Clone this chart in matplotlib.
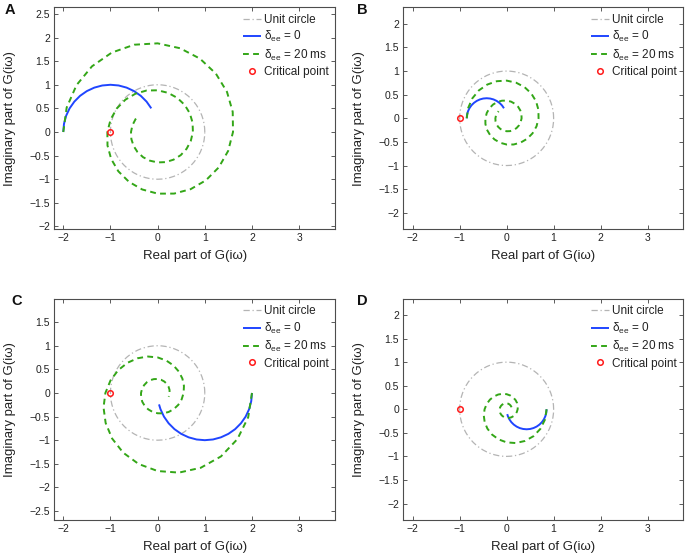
import numpy as np
import matplotlib
matplotlib.use('Agg')
import matplotlib.pyplot as plt

plt.rcParams['font.family'] = ['Liberation Sans', 'DejaVu Sans']
plt.rcParams['mathtext.fontset'] = 'custom'
plt.rcParams['mathtext.rm'] = 'Liberation Sans'
plt.rcParams['mathtext.it'] = 'Liberation Sans:italic'
plt.rcParams['axes.unicode_minus'] = True

# ---------------- data ----------------
panel_letters = ['A', 'B', 'C', 'D']
# starting polar angle of each Nyquist curve (deg): negative gain -> 180, positive -> 0
start_angle = [180, 180, 0, 0]

# phase lag (deg) at which the radii below were read
lag_ab_green = list(range(0, 751, 15)) + [761]
lag_cd_green = list(range(0, 736, 15)) + [739]
lag_ab_blue = list(range(0, 76, 5))
lag_cd_blue = list(range(0, 81, 5)) + [83]

# |G(iw)| along the delayed curves (delta_ee = 20 ms)
green_A = [2.000, 1.996, 1.985, 1.967, 1.942, 1.913, 1.877, 1.836, 1.794, 1.747,
           1.698, 1.648, 1.598, 1.548, 1.497, 1.447, 1.398, 1.350, 1.305, 1.260,
           1.217, 1.177, 1.138, 1.100, 1.065, 1.031, 0.998, 0.967, 0.937, 0.909,
           0.883, 0.858, 0.834, 0.811, 0.789, 0.767, 0.748, 0.728, 0.710, 0.693,
           0.676, 0.660, 0.644, 0.629, 0.616, 0.602, 0.589, 0.576, 0.564, 0.553,
           0.541, 0.533]
green_B = [0.850, 0.848, 0.844, 0.836, 0.825, 0.813, 0.798, 0.780, 0.762, 0.742,
           0.722, 0.700, 0.679, 0.658, 0.636, 0.615, 0.594, 0.574, 0.555, 0.536,
           0.517, 0.500, 0.484, 0.468, 0.453, 0.438, 0.424, 0.411, 0.398, 0.386,
           0.375, 0.365, 0.354, 0.345, 0.335, 0.326, 0.318, 0.309, 0.302, 0.295,
           0.287, 0.281, 0.274, 0.267, 0.262, 0.256, 0.250, 0.245, 0.240, 0.235,
           0.230, 0.227]
green_C = [2.000, 1.988, 1.953, 1.900, 1.829, 1.746, 1.653, 1.557, 1.460, 1.364,
           1.272, 1.187, 1.107, 1.033, 0.965, 0.904, 0.849, 0.799, 0.753, 0.711,
           0.673, 0.638, 0.607, 0.578, 0.551, 0.527, 0.505, 0.484, 0.465, 0.447,
           0.430, 0.415, 0.400, 0.387, 0.375, 0.363, 0.352, 0.341, 0.331, 0.322,
           0.313, 0.304, 0.296, 0.289, 0.281, 0.274, 0.267, 0.261, 0.255, 0.250,
           0.248]
green_D = [0.850, 0.845, 0.830, 0.808, 0.777, 0.742, 0.703, 0.662, 0.621, 0.580,
           0.541, 0.504, 0.470, 0.439, 0.410, 0.384, 0.361, 0.340, 0.320, 0.302,
           0.286, 0.271, 0.258, 0.246, 0.234, 0.224, 0.215, 0.206, 0.198, 0.190,
           0.183, 0.176, 0.170, 0.164, 0.159, 0.154, 0.150, 0.145, 0.141, 0.137,
           0.133, 0.129, 0.126, 0.123, 0.119, 0.116, 0.113, 0.111, 0.108, 0.106,
           0.105]

# |G(iw)| along the undelayed curves (delta_ee = 0)
blue_A = [2.000, 1.992, 1.970, 1.932, 1.879, 1.813, 1.732, 1.638, 1.532, 1.414,
          1.286, 1.147, 1.000, 0.845, 0.684, 0.518]
blue_B = [0.850, 0.847, 0.837, 0.821, 0.799, 0.770, 0.736, 0.696, 0.651, 0.601,
          0.546, 0.488, 0.425, 0.359, 0.291, 0.220]
blue_C = [2.000, 1.992, 1.970, 1.932, 1.879, 1.813, 1.732, 1.638, 1.532, 1.414,
          1.286, 1.147, 1.000, 0.845, 0.684, 0.518, 0.347, 0.244]
blue_D = [0.850, 0.847, 0.837, 0.821, 0.799, 0.770, 0.736, 0.696, 0.651, 0.601,
          0.546, 0.488, 0.425, 0.359, 0.291, 0.220, 0.148, 0.104]

green_r = [green_A, green_B, green_C, green_D]
blue_r = [blue_A, blue_B, blue_C, blue_D]
green_lag = [lag_ab_green, lag_ab_green, lag_cd_green, lag_cd_green]
blue_lag = [lag_ab_blue, lag_ab_blue, lag_cd_blue, lag_cd_blue]

unit_circle_angles = list(range(0, 361, 5))
unit_radius = 1.0
critical_point = (-1.0, 0.0)

x_ticks = [-2, -1, 0, 1, 2, 3]
y_ticks = [[-2, -1.5, -1, -0.5, 0, 0.5, 1, 1.5, 2, 2.5],
           [-2, -1.5, -1, -0.5, 0, 0.5, 1, 1.5, 2],
           [-2.5, -2, -1.5, -1, -0.5, 0, 0.5, 1, 1.5],
           [-2, -1.5, -1, -0.5, 0, 0.5, 1, 1.5, 2]]
x_lims = [(-2.19, 3.76), (-2.20, 3.76), (-2.19, 3.76), (-2.20, 3.76)]
y_lims = [(-2.06, 2.64), (-2.35, 2.35), (-2.69, 1.99), (-2.35, 2.34)]

labels = ['Unit circle', 'δ$_{\\mathregular{ee}}$ = 0',
          'δ$_{\\mathregular{ee}}$ = 20 ms', 'Critical point']

# ---------------- layout ----------------
W, H = 685, 558
fig = plt.figure(figsize=(W / 100, H / 100), dpi=100)
boxes_px = [(54.3, 7.3, 335.0, 229.3), (403.3, 7.3, 683.3, 229.3),
            (54.3, 299.0, 335.0, 520.0), (403.3, 299.0, 683.3, 520.0)]
letter_pos = [(5, 3), (357, 3), (11, 294), (357, 294)]

c_gray = '#b4b4b4'
c_blue = '#1f45ff'
c_green = '#33a617'
c_red = '#ff1a1a'


def fmt(v):
    s = ('%g' % v)
    return s.replace('-', '\u2212')


for i in range(4):
    l, t, r, b = boxes_px[i]
    ax = fig.add_axes([l / W, 1 - b / H, (r - l) / W, (b - t) / H])

    ang = np.deg2rad(unit_circle_angles)
    ax.plot(unit_radius * np.cos(ang), unit_radius * np.sin(ang), color=c_gray,
            lw=0.9, ls=(0, (5, 2.2, 1, 2.2)), label=labels[0])

    ang = np.deg2rad(start_angle[i] - np.asarray(blue_lag[i], float))
    rad = np.asarray(blue_r[i])
    ax.plot(rad * np.cos(ang), rad * np.sin(ang), color=c_blue, lw=1.4,
            label=labels[1], solid_capstyle='butt')

    ang = np.deg2rad(start_angle[i] - np.asarray(green_lag[i], float))
    rad = np.asarray(green_r[i])
    ax.plot(rad * np.cos(ang), rad * np.sin(ang), color=c_green, lw=1.4,
            ls=(0, (3.0, 2.2)), label=labels[2])

    ax.plot([critical_point[0]], [critical_point[1]], ls='none', marker='o',
            ms=4.0, mfc='none', mec=c_red, mew=1.1, label=labels[3])

    ax.set_xlim(*x_lims[i])
    ax.set_ylim(*y_lims[i])
    ax.set_xticks(x_ticks)
    ax.set_xticklabels([fmt(v) for v in x_ticks])
    ax.set_yticks(y_ticks[i])
    ax.set_yticklabels([fmt(v) for v in y_ticks[i]])
    ax.tick_params(direction='in', length=3, width=0.6, labelsize=7.5,
                   top=True, right=True, pad=3, color='0.25', labelcolor='#222222')
    for sp in ax.spines.values():
        sp.set_color('0.3')
        sp.set_linewidth(0.8)

    ax.set_xlabel('Real part of G(iω)', fontsize=9.5, color='#222222', va='top')
    ax.xaxis.set_label_coords(0.5, -21.0 / (b - t))
    ax.set_ylabel('Imaginary part of G(iω)', fontsize=9.5, color='#222222')
    ax.yaxis.set_label_coords(-38.5 / (r - l), 0.5)

    leg = ax.legend(loc='upper right', frameon=False, fontsize=8.5,
                    handlelength=1.55, handletextpad=0.25, borderaxespad=0.25,
                    labelspacing=0.28, borderpad=0.3)
    for txt in leg.get_texts():
        txt.set_color('#222222')

    lx, ly = letter_pos[i]
    fig.text(lx / W, 1 - ly / H, panel_letters[i], fontsize=10.5,
             fontweight='bold', ha='left', va='top', color='#111111')

fig.savefig('out.png', dpi=100)
